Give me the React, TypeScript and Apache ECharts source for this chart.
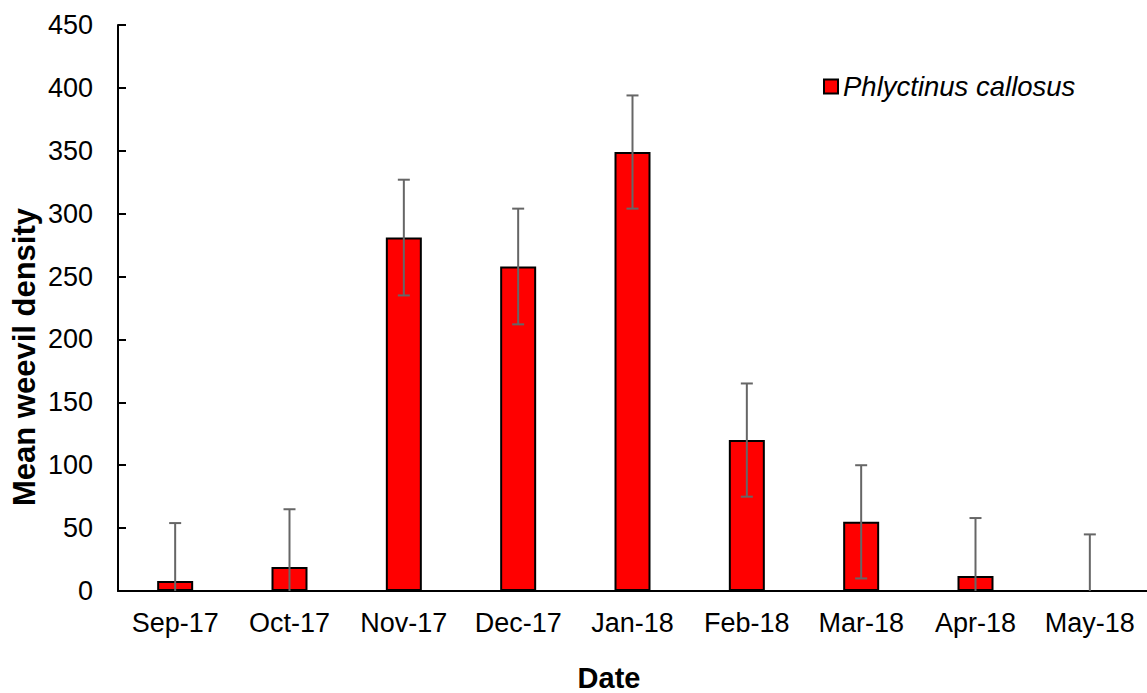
import React, { useEffect, useRef } from "react";
import * as echarts from "echarts";

const categories = ["Sep-17", "Oct-17", "Nov-17", "Dec-17", "Jan-18", "Feb-18", "Mar-18", "Apr-18", "May-18"];
const meanDensity = [8, 19, 281, 258, 349, 120, 55, 12, 0];
const stdError = [46, 46, 46, 46, 45, 45, 45, 46, 45];
const seriesName = "Phlyctinus callosus";
const xTitle = "Date";
const yTitle = "Mean weevil density";

export default function App() {
  const ref = useRef<HTMLDivElement>(null);
  useEffect(() => {
    const chart = echarts.init(ref.current!, null, { renderer: "svg" });
    const errData = categories.map((c, i) => [i, meanDensity[i], stdError[i]]);
    const font = "Liberation Sans, Arial, sans-serif";
    chart.setOption({
      animation: false,
      backgroundColor: "#ffffff",
      textStyle: { fontFamily: font },
      grid: { left: 118, top: 25, right: 0, bottom: 102, containLabel: false, outerBoundsMode: "none" },
      legend: {
        data: [{ name: seriesName, icon: "rect" }],
        left: 818,
        top: 68,
        itemWidth: 14,
        itemHeight: 14,
        itemGap: 8,
        textStyle: { fontSize: 27.5, fontStyle: "italic", color: "#000", fontFamily: font },
      },
      graphic: [
        {
          type: "text",
          x: 609,
          y: 678,
          style: { text: xTitle, font: "bold 29px " + font, fill: "#000", align: "center", verticalAlign: "middle" },
        },
        {
          type: "text",
          x: 24,
          y: 357,
          rotation: Math.PI / 2,
          style: { text: yTitle, font: "bold 31px " + font, fill: "#000", align: "center", verticalAlign: "middle" },
        },
      ],
      xAxis: {
        type: "category",
        data: categories,
        axisLine: { lineStyle: { color: "#000", width: 2 } },
        axisTick: { inside: true, length: 9, interval: 0, lineStyle: { color: "#000", width: 2 } },
        axisLabel: { fontSize: 27, color: "#000", margin: 18, interval: 0 },
        splitLine: { show: false },
      },
      yAxis: {
        type: "value",
        min: 0,
        max: 450,
        interval: 50,
        axisLine: { show: true, lineStyle: { color: "#000", width: 2 } },
        axisTick: { show: true, inside: true, length: 8, lineStyle: { color: "#000", width: 2 } },
        axisLabel: { fontSize: 27, color: "#000", margin: 25 },
        splitLine: { show: false },
      },
      series: [
        {
          name: seriesName,
          type: "bar",
          data: meanDensity,
          barWidth: 36,
          itemStyle: { color: "#ff0000", borderColor: "#000", borderWidth: 2 },
        },
        {
          type: "custom",
          data: errData,
          clip: true,
          z: 10,
          renderItem: (params: any, api: any) => {
            const i = api.value(0);
            const v = api.value(1);
            const e = api.value(2);
            const lowVal = Math.max(0, v - e);
            const top = api.coord([i, v + e]);
            const bot = api.coord([i, lowVal]);
            const cap = 6;
            const style = { stroke: "#666666", lineWidth: 2 };
            const children: any[] = [
              { type: "line", shape: { x1: top[0], y1: top[1], x2: bot[0], y2: bot[1] }, style },
              { type: "line", shape: { x1: top[0] - cap, y1: top[1], x2: top[0] + cap, y2: top[1] }, style },
            ];
            if (v - e > 0) {
              children.push({ type: "line", shape: { x1: bot[0] - cap, y1: bot[1], x2: bot[0] + cap, y2: bot[1] }, style });
            }
            return { type: "group", children };
          },
        },
      ],
    });
    return () => chart.dispose();
  }, []);
  return <div ref={ref} style={{ position: "fixed", left: 0, top: 0, width: 1147, height: 693 }} />;
}
